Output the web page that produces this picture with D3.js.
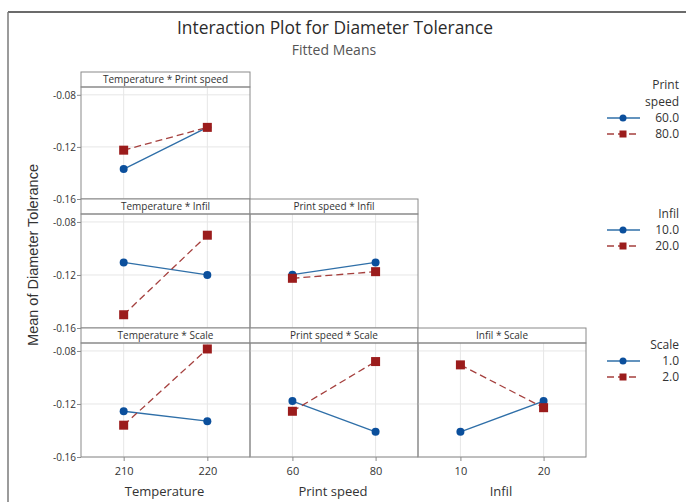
<!DOCTYPE html>
<html>
<head>
<meta charset="utf-8">
<script src="https://cdn.jsdelivr.net/npm/d3@7"></script>
<style>
  html, body { margin: 0; padding: 0; background: #fff; }
  svg { display: block; font-family: "Open Sans", "Noto Sans", sans-serif; }
</style>
</head>
<body>
<svg id="chart" width="686" height="502"></svg>
<script>
// ---------------- data ----------------
const factorNames = ["Temperature", "Print speed", "Infil", "Scale"];
const temperatureLevels = [210, 220];
const printSpeedLevels = [60, 80];
const infilLevels = [10, 20];
const scaleLevels = [1.0, 2.0];
const yTicks = [-0.08, -0.12, -0.16];

// Temperature * Print speed  (trace: Print speed 60.0 / 80.0)
const tempSpeed60 = [-0.137, -0.105];
const tempSpeed80 = [-0.1225, -0.105];
// Temperature * Infil (trace: Infil 10.0 / 20.0)
const tempInfil10 = [-0.1105, -0.120];
const tempInfil20 = [-0.150, -0.090];
// Print speed * Infil
const speedInfil10 = [-0.1198, -0.1105];
const speedInfil20 = [-0.1225, -0.1175];
// Temperature * Scale (trace: Scale 1.0 / 2.0)
const tempScale1 = [-0.1255, -0.133];
const tempScale2 = [-0.136, -0.0785];
// Print speed * Scale
const speedScale1 = [-0.1178, -0.141];
const speedScale2 = [-0.1255, -0.088];
// Infil * Scale
const infilScale1 = [-0.141, -0.1178];
const infilScale2 = [-0.0905, -0.1228];

const legendTitles = [["Print", "speed"], ["Infil"], ["Scale"]];
const legendLabels = [["60.0", "80.0"], ["10.0", "20.0"], ["1.0", "2.0"]];

// ---------------- layout ----------------
const svg = d3.select("#chart");
const W = 686, H = 502;
const colEdges = [81, 250, 418, 586];
const rowStripTop = [72, 199, 328];
const rowBottom = [199, 328, 457];
const stripH = 15;

const blueMarker = "#0B4F9C", blueLine = "#2F6FA8";
const redMarker = "#9B1C1C", redLine = "#A5403E";
const borderCol = "#8a8a8a", gridCol = "#e6e6e6", textCol = "#333";

const levelsByFactor = [temperatureLevels, printSpeedLevels, infilLevels, scaleLevels];
const hyphenFmt = d => d.toFixed(2).replace("\u2212", "-");

const panels = [
  {row: 0, col: 0, xf: 0, title: "Temperature * Print speed", s1: tempSpeed60, s2: tempSpeed80},
  {row: 1, col: 0, xf: 0, title: "Temperature * Infil", s1: tempInfil10, s2: tempInfil20},
  {row: 1, col: 1, xf: 1, title: "Print speed * Infil", s1: speedInfil10, s2: speedInfil20},
  {row: 2, col: 0, xf: 0, title: "Temperature * Scale", s1: tempScale1, s2: tempScale2},
  {row: 2, col: 1, xf: 1, title: "Print speed * Scale", s1: speedScale1, s2: speedScale2},
  {row: 2, col: 2, xf: 2, title: "Infil * Scale", s1: infilScale1, s2: infilScale2}
];

// outer frame
svg.append("line").attr("x1", 8).attr("x2", W).attr("y1", 12).attr("y2", 12)
  .attr("stroke", "#3a3a3a").attr("stroke-width", 1.5);
svg.append("line").attr("x1", 8).attr("x2", 8).attr("y1", 12).attr("y2", H)
  .attr("stroke", "#7a7a7a").attr("stroke-width", 1.5);

// titles
svg.append("text").attr("x", 335).attr("y", 34).attr("text-anchor", "middle")
  .attr("font-size", 18.5).attr("fill", "#2b2b2b")
  .attr("textLength", 316).attr("lengthAdjust", "spacingAndGlyphs")
  .text("Interaction Plot for Diameter Tolerance");
svg.append("text").attr("x", 334).attr("y", 55).attr("text-anchor", "middle")
  .attr("font-size", 14).attr("fill", "#555").text("Fitted Means");

// y axis title
svg.append("text")
  .attr("transform", "translate(38,255) rotate(-90)")
  .attr("text-anchor", "middle").attr("font-size", 14.5).attr("fill", textCol)
  .attr("font-family", "'Liberation Sans', Arial, sans-serif")
  .text("Mean of Diameter Tolerance");

function xScaleFor(p) {
  const lv = levelsByFactor[p.xf];
  const span = lv[1] - lv[0];
  return d3.scaleLinear().domain([lv[0] - 0.51 * span, lv[1] + 0.51 * span])
    .range([colEdges[p.col], colEdges[p.col + 1]]);
}
function yScaleFor(row) {
  return d3.scaleLinear().domain([-0.16, -0.074])
    .range([rowBottom[row], rowStripTop[row] + stripH]);
}

panels.forEach(p => {
  const x = xScaleFor(p), y = yScaleFor(p.row);
  const x0 = colEdges[p.col], x1 = colEdges[p.col + 1];
  const top = rowStripTop[p.row] + stripH, bot = rowBottom[p.row];
  const lv = levelsByFactor[p.xf];
  const g = svg.append("g");

  // grid
  g.selectAll(".gy").data(yTicks).join("line")
    .attr("x1", x0).attr("x2", x1).attr("y1", d => y(d)).attr("y2", d => y(d))
    .attr("stroke", gridCol).attr("stroke-width", 1);
  g.selectAll(".gx").data(lv).join("line")
    .attr("x1", d => x(d)).attr("x2", d => x(d)).attr("y1", top).attr("y2", bot)
    .attr("stroke", gridCol).attr("stroke-width", 1);

  // strip
  g.append("rect").attr("x", x0).attr("y", rowStripTop[p.row]).attr("width", x1 - x0)
    .attr("height", stripH).attr("fill", "#fff").attr("stroke", borderCol);
  g.append("text").attr("x", (x0 + x1) / 2).attr("y", rowStripTop[p.row] + 11)
    .attr("text-anchor", "middle").attr("font-size", 10).attr("fill", textCol).text(p.title);
  // panel border
  g.append("rect").attr("x", x0).attr("y", top).attr("width", x1 - x0).attr("height", bot - top)
    .attr("fill", "none").attr("stroke", borderCol);

  const pts1 = lv.map((v, i) => [x(v), y(p.s1[i])]);
  const pts2 = lv.map((v, i) => [x(v), y(p.s2[i])]);
  const line = d3.line();
  g.append("path").attr("d", line(pts1)).attr("fill", "none")
    .attr("stroke", blueLine).attr("stroke-width", 1.3);
  g.append("path").attr("d", line(pts2)).attr("fill", "none")
    .attr("stroke", redLine).attr("stroke-width", 1.3).attr("stroke-dasharray", "7,4");
  g.selectAll(".c").data(pts1).join("circle")
    .attr("cx", d => d[0]).attr("cy", d => d[1]).attr("r", 4).attr("fill", blueMarker);
  g.selectAll(".s").data(pts2).join("rect")
    .attr("x", d => d[0] - 4.5).attr("y", d => d[1] - 4.5).attr("width", 9).attr("height", 9)
    .attr("fill", redMarker);

  // y axis on first column
  if (p.col === 0) {
    const ax = svg.append("g").attr("transform", `translate(${x0},0)`)
      .call(d3.axisLeft(y).tickValues(yTicks).tickSize(4).tickSizeOuter(0).tickFormat(hyphenFmt));
    ax.select(".domain").remove();
    ax.selectAll("line").attr("stroke", borderCol);
    ax.selectAll("text").attr("font-size", 10).attr("fill", textCol)
      .attr("font-family", "'Open Sans', sans-serif").attr("x", -5);
  }
  // x axis on bottom row
  if (p.row === 2) {
    const ax = svg.append("g").attr("transform", `translate(0,${bot})`)
      .call(d3.axisBottom(x).tickValues(lv).tickSize(4).tickSizeOuter(0).tickFormat(d3.format("d")));
    ax.select(".domain").remove();
    ax.selectAll("line").attr("stroke", borderCol);
    ax.selectAll("text").attr("font-size", 11).attr("fill", textCol)
      .attr("font-family", "'Open Sans', sans-serif").attr("y", 10);
    svg.append("text").attr("x", (x0 + x1) / 2 - 1).attr("y", 496).attr("text-anchor", "middle")
      .attr("font-size", 13).attr("fill", textCol).text(factorNames[p.xf]);
  }
});

// legends
const legendTop = [85, 214, 345];
legendTitles.forEach((tl, k) => {
  const g = svg.append("g");
  let yy = legendTop[k];
  tl.forEach((t, i) => {
    g.append("text").attr("x", 679).attr("y", yy + i * 17 + 4).attr("text-anchor", "end")
      .attr("font-size", 12).attr("fill", textCol).text(t);
  });
  const base = yy + tl.length * 17 - 1;
  const rows = [
    {lab: legendLabels[k][0], dy: 0, col: blueLine, mk: blueMarker, dash: null, circ: true},
    {lab: legendLabels[k][1], dy: 16, col: redLine, mk: redMarker, dash: "7,4", circ: false}
  ];
  rows.forEach(r => {
    const ly = base + r.dy;
    g.append("line").attr("x1", 607).attr("x2", 640).attr("y1", ly).attr("y2", ly)
      .attr("stroke", r.col).attr("stroke-width", 1.3).attr("stroke-dasharray", r.dash);
    if (r.circ) g.append("circle").attr("cx", 623).attr("cy", ly).attr("r", 3.5).attr("fill", r.mk);
    else g.append("rect").attr("x", 619.5).attr("y", ly - 3.5).attr("width", 7).attr("height", 7).attr("fill", r.mk);
    g.append("text").attr("x", 679).attr("y", ly + 4).attr("text-anchor", "end")
      .attr("font-size", 12).attr("fill", textCol).text(r.lab);
  });
});
</script>
</body>
</html>
